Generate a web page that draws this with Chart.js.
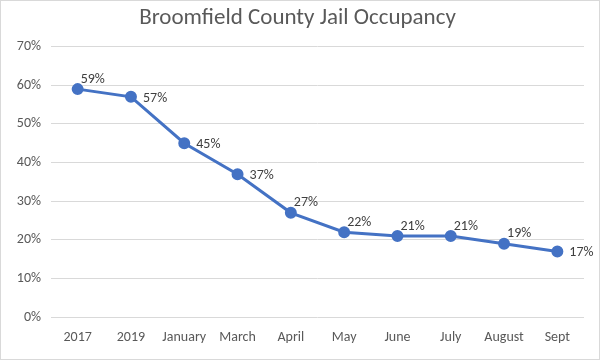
<!DOCTYPE html>
<html lang="en">
<head>
<meta charset="UTF-8">
<title>Broomfield County Jail Occupancy</title>
<script src="https://cdn.jsdelivr.net/npm/chart.js"></script>
<style>
    html, body { margin: 0; padding: 0; background: #fff; }
    .wrap {
        width: 598px;
        height: 358px;
        border: 1px solid #d9d9d9;
    }
</style>
</head>
<body>
<div class="wrap"><canvas id="chart" width="598" height="358"></canvas></div>
<script>
    const labels = ["2017", "2019", "January", "March", "April", "May", "June", "July", "August", "Sept"];
    const occupancy = [59, 57, 45, 37, 27, 22, 21, 21, 19, 17];
    const yTicks = [0, 10, 20, 30, 40, 50, 60, 70];

    const FONT = "Calibri, Carlito, 'Open Sans', sans-serif";

    // "59%" style labels: to the right of a point, lifted above the line
    // when the next segment is nearly flat (like Excel's placement here)
    const pointLabels = {
        id: "pointLabels",
        afterDatasetsDraw(chart) {
            const ctx = chart.ctx;
            const meta = chart.getDatasetMeta(0);
            ctx.save();
            ctx.font = "14px " + FONT;
            ctx.fillStyle = "#404040";
            ctx.textBaseline = "middle";
            ctx.textAlign = "left";
            meta.data.forEach((pt, i) => {
                const txt = occupancy[i] + "%";
                const next = occupancy[i + 1];
                const flat = next !== undefined && occupancy[i] - next < 6;
                if (flat) {
                    ctx.fillText(txt, pt.x + 3, pt.y - 10);
                } else {
                    ctx.fillText(txt, pt.x + 12, pt.y + 1.5);
                }
            });
            ctx.restore();
        }
    };

    new Chart(document.getElementById("chart"), {
        type: "line",
        data: {
            labels: labels,
            datasets: [{
                data: occupancy,
                borderColor: "#4472C4",
                backgroundColor: "#4472C4",
                borderWidth: 3,
                pointRadius: 4.5,
                pointHoverRadius: 4.5,
                tension: 0,
                fill: false
            }]
        },
        options: {
            responsive: false,
            animation: false,
            layout: { padding: { left: 10, right: 15, top: 2, bottom: 1 } },
            plugins: {
                legend: { display: false },
                tooltip: { enabled: false },
                title: {
                    display: true,
                    text: "Broomfield County Jail Occupancy",
                    color: "#595959",
                    font: { size: 23, family: FONT, weight: "normal" },
                    padding: { top: 1, bottom: 15 }
                }
            },
            scales: {
                x: {
                    offset: true,
                    grid: { display: false, drawTicks: false },
                    border: { display: false },
                    ticks: {
                        color: "#595959",
                        font: { size: 14, family: FONT },
                        maxRotation: 0,
                        autoSkip: false,
                        padding: 12
                    }
                },
                y: {
                    min: 0,
                    max: 70,
                    afterBuildTicks(axis) {
                        axis.ticks = yTicks.map(v => ({ value: v }));
                    },
                    afterFit(axis) { axis.width = 40; },
                    grid: { color: "#d9d9d9", drawTicks: false },
                    border: { display: false },
                    ticks: {
                        color: "#595959",
                        font: { size: 14, family: FONT },
                        padding: 10,
                        callback: v => v + "%"
                    }
                }
            }
        },
        plugins: [pointLabels]
    });
</script>
</body>
</html>
